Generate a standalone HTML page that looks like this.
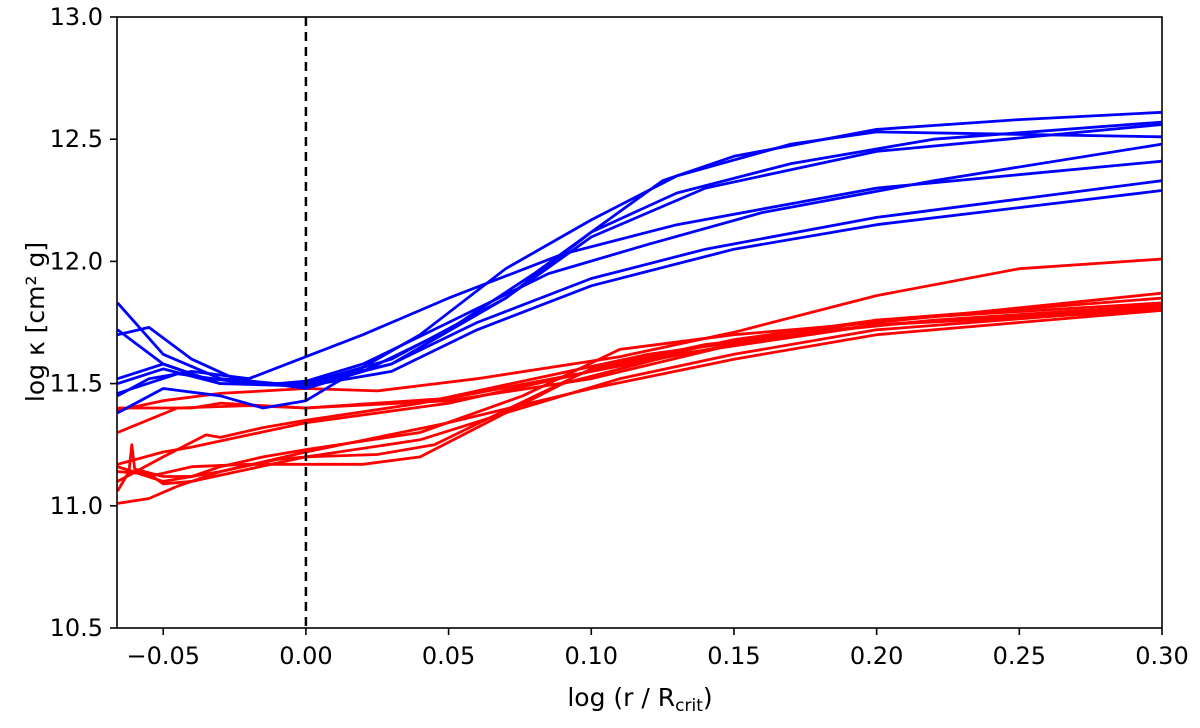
<!DOCTYPE html>
<html><head><meta charset="utf-8"><style>
body{margin:0;background:#fff;}
svg{display:block;font-family:"DejaVu Sans","Liberation Sans",sans-serif;}
</style></head><body>
<svg id="chart" width="1200" height="728" viewBox="0 0 1200 728" xmlns="http://www.w3.org/2000/svg">
<g id="lines"></g>
<line id="vline" x1="306" y1="17" x2="306" y2="628" stroke="#000" stroke-width="2.5" stroke-dasharray="9,6"/>
<rect x="117" y="17" width="1045" height="611" fill="none" stroke="#000" stroke-width="1.6"/>
<g id="xticks"></g>
<g id="yticks"></g>
<text transform="translate(44,322) rotate(-90)" text-anchor="middle" font-size="25">log κ [cm² g]</text>
<text x="640" y="706" text-anchor="middle" font-size="25">log (r / R<tspan font-size="17" dy="5">crit</tspan><tspan dy="-5">)</tspan></text>
</svg>
<script>
const xTicks=[-0.05,0,0.05,0.10,0.15,0.20,0.25,0.30];
const xTickLabels=["−0.05","0.00","0.05","0.10","0.15","0.20","0.25","0.30"];
const yTicks=[10.5,11.0,11.5,12.0,12.5,13.0];
const yTickLabels=["10.5","11.0","11.5","12.0","12.5","13.0"];
const blue1=[[-0.066,11.83],[-0.05,11.62],[-0.03,11.52],[-0.01,11.50],[0,11.50],[0.03,11.60],[0.07,11.85],[0.10,12.12],[0.125,12.33],[0.15,12.43],[0.2,12.54],[0.25,12.58],[0.30,12.61]];
const blue2=[[-0.066,11.38],[-0.05,11.48],[-0.03,11.45],[-0.015,11.40],[0,11.43],[0.01,11.50],[0.04,11.70],[0.07,11.97],[0.10,12.17],[0.13,12.35],[0.17,12.48],[0.20,12.53],[0.30,12.51]];
const blue3=[[-0.066,11.70],[-0.055,11.73],[-0.04,11.60],[-0.025,11.52],[0,11.48],[0.02,11.55],[0.05,11.72],[0.08,11.95],[0.10,12.12],[0.13,12.28],[0.17,12.40],[0.22,12.50],[0.30,12.57]];
const blue4=[[-0.066,11.72],[-0.05,11.58],[-0.03,11.50],[0,11.49],[0.03,11.58],[0.07,11.85],[0.10,12.10],[0.14,12.30],[0.2,12.45],[0.3,12.56]];
const blue5=[[-0.066,11.52],[-0.05,11.58],[-0.035,11.52],[-0.01,11.50],[0,11.51],[0.02,11.58],[0.05,11.75],[0.085,11.95],[0.12,12.07],[0.16,12.20],[0.22,12.33],[0.30,12.48]];
const blue6=[[-0.066,11.45],[-0.055,11.52],[-0.04,11.55],[-0.02,11.52],[0,11.61],[0.02,11.70],[0.05,11.85],[0.09,12.03],[0.13,12.15],[0.2,12.30],[0.3,12.41]];
const blue7=[[-0.066,11.50],[-0.05,11.56],[-0.03,11.50],[0,11.50],[0.03,11.58],[0.06,11.75],[0.10,11.93],[0.14,12.05],[0.2,12.18],[0.3,12.33]];
const blue8=[[-0.066,11.46],[-0.045,11.54],[-0.02,11.50],[0,11.49],[0.03,11.55],[0.06,11.72],[0.10,11.90],[0.15,12.05],[0.2,12.15],[0.3,12.29]];
const red1=[[-0.066,11.39],[-0.05,11.43],[-0.03,11.46],[0,11.48],[0.025,11.47],[0.06,11.52],[0.11,11.61],[0.15,11.71],[0.2,11.86],[0.25,11.97],[0.3,12.01]];
const red2=[[-0.066,11.40],[-0.04,11.40],[-0.03,11.42],[-0.015,11.41],[0,11.40],[0.05,11.43],[0.1,11.52],[0.15,11.66],[0.2,11.76],[0.3,11.85]];
const red3=[[-0.066,11.30],[-0.045,11.40],[-0.02,11.41],[0,11.40],[0.05,11.44],[0.1,11.55],[0.15,11.68],[0.2,11.76],[0.3,11.83]];
const red4=[[-0.066,11.10],[-0.05,11.20],[-0.035,11.29],[-0.03,11.28],[-0.015,11.32],[0,11.35],[0.04,11.42],[0.08,11.52],[0.12,11.62],[0.17,11.70],[0.22,11.76],[0.3,11.82]];
const red5=[[-0.066,11.17],[-0.05,11.22],[-0.04,11.24],[-0.02,11.29],[0,11.34],[0.05,11.42],[0.1,11.55],[0.15,11.66],[0.2,11.74],[0.3,11.81]];
const red6=[[-0.066,11.06],[-0.062,11.14],[-0.061,11.25],[-0.060,11.15],[-0.05,11.12],[-0.04,11.12],[-0.03,11.16],[-0.015,11.20],[0,11.23],[0.04,11.30],[0.076,11.45],[0.11,11.64],[0.15,11.70],[0.2,11.75],[0.3,11.87]];
const red7=[[-0.066,11.14],[-0.055,11.13],[-0.05,11.09],[-0.04,11.10],[-0.02,11.15],[0,11.20],[0.025,11.21],[0.045,11.25],[0.075,11.42],[0.1,11.56],[0.14,11.66],[0.2,11.74],[0.3,11.80]];
const red8=[[-0.066,11.16],[-0.05,11.10],[-0.03,11.14],[-0.01,11.19],[0,11.20],[0.04,11.27],[0.07,11.38],[0.11,11.52],[0.15,11.62],[0.2,11.72],[0.3,11.81]];
const red9=[[-0.066,11.16],[-0.055,11.12],[-0.04,11.16],[-0.02,11.17],[0,11.17],[0.02,11.17],[0.04,11.20],[0.06,11.32],[0.09,11.50],[0.13,11.62],[0.2,11.74],[0.3,11.82]];
const red10=[[-0.066,11.01],[-0.055,11.03],[-0.045,11.08],[-0.03,11.14],[0,11.22],[0.05,11.34],[0.1,11.48],[0.15,11.60],[0.2,11.70],[0.3,11.80]];
const blueSeries=[blue1,blue2,blue3,blue4,blue5,blue6,blue7,blue8];
const redSeries=[red1,red2,red3,red4,red5,red6,red7,red8,red9,red10];

const NS="http://www.w3.org/2000/svg";
const X0=117,X1=1162,Y0=628,Y1=17,xmin=-0.0662,xmax=0.30,ymin=10.5,ymax=13.0;
function sx(v){return X0+(v-xmin)/(xmax-xmin)*(X1-X0);}
function sy(v){return Y0-(v-ymin)/(ymax-ymin)*(Y0-Y1);}
const vl=document.getElementById('vline');
vl.setAttribute('x1',sx(0));vl.setAttribute('x2',sx(0));
const lines=document.getElementById('lines');
function draw(arr,color,name){
  arr.forEach((s,i)=>{
    const p=document.createElementNS(NS,'polyline');
    p.setAttribute('points',s.map(d=>sx(Math.max(d[0],xmin)).toFixed(1)+','+sy(d[1]).toFixed(1)).join(' '));
    p.setAttribute('fill','none');p.setAttribute('stroke',color);p.setAttribute('stroke-width','2.8');
    p.setAttribute('stroke-linejoin','round');
    
    
    lines.appendChild(p);
  });
}
draw(redSeries,'#ff0000','red');
draw(blueSeries,'#0000ff','blue');
const xg=document.getElementById('xticks');
xTicks.forEach((v,i)=>{
  const l=document.createElementNS(NS,'line');
  l.setAttribute('x1',sx(v));l.setAttribute('x2',sx(v));l.setAttribute('y1',628);l.setAttribute('y2',635);
  l.setAttribute('stroke','#000');l.setAttribute('stroke-width','1.6');
  
  
  xg.appendChild(l);
  const t=document.createElementNS(NS,'text');
  t.setAttribute('x',sx(v));t.setAttribute('y',664);t.setAttribute('text-anchor','middle');t.setAttribute('font-size','24');
  t.textContent=xTickLabels[i];
  
  
  xg.appendChild(t);
});
const yg=document.getElementById('yticks');
yTicks.forEach((v,i)=>{
  const l=document.createElementNS(NS,'line');
  l.setAttribute('x1',110);l.setAttribute('x2',117);l.setAttribute('y1',sy(v));l.setAttribute('y2',sy(v));
  l.setAttribute('stroke','#000');l.setAttribute('stroke-width','1.6');
  
  
  yg.appendChild(l);
  const t=document.createElementNS(NS,'text');
  t.setAttribute('x',103);t.setAttribute('y',sy(v)+8);t.setAttribute('text-anchor','end');t.setAttribute('font-size','24');
  t.textContent=yTickLabels[i];
  
  
  yg.appendChild(t);
});
</script>
</body></html>
